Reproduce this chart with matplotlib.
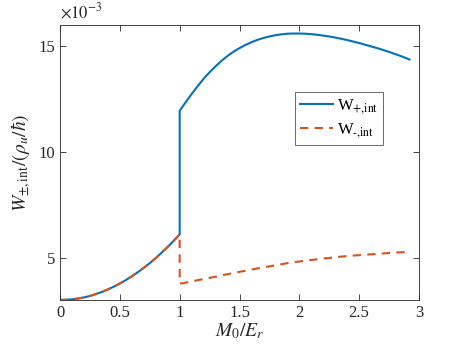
import matplotlib
matplotlib.use("Agg")
import matplotlib.pyplot as plt
import numpy as np

plt.rcParams['font.family'] = ['Liberation Serif', 'DejaVu Serif']
plt.rcParams['mathtext.fontset'] = 'stix'

# shared branch for M0/Er <= 1 (units of 1e-3)
x_low = [0, 0.05, 0.1, 0.15, 0.2, 0.25, 0.3, 0.35, 0.4, 0.45, 0.5, 0.55, 0.6,
         0.65, 0.7, 0.75, 0.8, 0.85, 0.9, 0.95, 1.0]
y_low = [3.0, 3.01, 3.03, 3.07, 3.12, 3.19, 3.28, 3.38, 3.5, 3.63, 3.78, 3.94,
         4.12, 4.31, 4.52, 4.74, 4.98, 5.24, 5.51, 5.8, 6.1]

# W+ branch for M0/Er >= 1
x_plus_hi = [1.0, 1.05, 1.1, 1.15, 1.2, 1.25, 1.3, 1.35, 1.4, 1.45, 1.5, 1.55, 1.6,
             1.65, 1.7, 1.75, 1.8, 1.85, 1.9, 1.95, 2.0, 2.05, 2.1, 2.15, 2.2, 2.25,
             2.3, 2.35, 2.4, 2.45, 2.5, 2.55, 2.6, 2.65, 2.7, 2.75, 2.8, 2.85, 2.9, 2.92]
y_plus_hi = [11.95, 12.35, 12.74, 13.11, 13.46, 13.77, 14.05, 14.31, 14.54, 14.74,
             14.91, 15.06, 15.19, 15.3, 15.39, 15.46, 15.52, 15.56, 15.59, 15.6,
             15.6, 15.59, 15.57, 15.54, 15.5, 15.46, 15.41, 15.35, 15.29, 15.22,
             15.15, 15.07, 14.99, 14.91, 14.82, 14.73, 14.63, 14.53, 14.42, 14.37]

# W- branch for M0/Er >= 1
x_minus_hi = [1.0, 1.02, 1.1, 1.2, 1.3, 1.4, 1.5, 1.6, 1.7, 1.8, 1.9, 2.0, 2.1, 2.2,
              2.3, 2.4, 2.5, 2.6, 2.7, 2.8, 2.92]
y_minus_hi = [3.8, 3.78, 3.88, 3.99, 4.1, 4.22, 4.33, 4.44, 4.54, 4.64, 4.74, 4.82,
              4.89, 4.96, 5.02, 5.08, 5.12, 5.16, 5.2, 5.24, 5.28]

scale = 1e-3
x_plus = x_low + x_plus_hi
y_plus = np.array(y_low + y_plus_hi) * scale
x_minus = x_low + x_minus_hi
y_minus = np.array(y_low + y_minus_hi) * scale

fig = plt.figure(figsize=(4.63, 3.48), dpi=100)
ax = fig.add_axes([0.1296, 0.138, 0.7754, 0.79])

ax.plot(x_plus, y_plus, color='#0072BD', lw=1.5, label=r'W$_{\text{+,int}}$')
ax.plot(x_minus, y_minus, color='#D95319', lw=1.5, ls=(0, (4, 3)),
        label=r'W$_{\text{-,int}}$')

ax.set_xlim(0, 3)
ax.set_ylim(3e-3, 16e-3)
ax.set_xticks([0, 0.5, 1, 1.5, 2, 2.5, 3])
ax.set_xticklabels(['0', '0.5', '1', '1.5', '2', '2.5', '3'])
ax.set_yticks([5e-3, 10e-3, 15e-3])
ax.set_yticklabels(['5', '10', '15'])
ax.tick_params(direction='in', top=True, right=True, labelsize=12, length=4, width=0.6,
               color='#262626', labelcolor='#262626')
for s in ax.spines.values():
    s.set_linewidth(0.6)
    s.set_color('#262626')

ax.text(0.0, 1.01, r'$\times10^{-3}$', transform=ax.transAxes, fontsize=12,
        ha='left', va='bottom', color='#262626')

ax.set_xlabel(r'$M_0/E_r$', fontsize=14, labelpad=0, color='#262626')
ax.set_ylabel(r'$W_{\pm,\mathrm{int}}/(\rho_u/\hbar)$', fontsize=14, labelpad=4, color='#262626')

leg = ax.legend(loc='upper left', bbox_to_anchor=(0.655, 0.755), fontsize=12,
                frameon=True, fancybox=False, edgecolor='#262626', handlelength=2.0,
                handletextpad=0.2, borderpad=0.3, labelspacing=0.3, borderaxespad=0)
leg.get_frame().set_linewidth(0.6)

fig.savefig('out.png', dpi=100)
